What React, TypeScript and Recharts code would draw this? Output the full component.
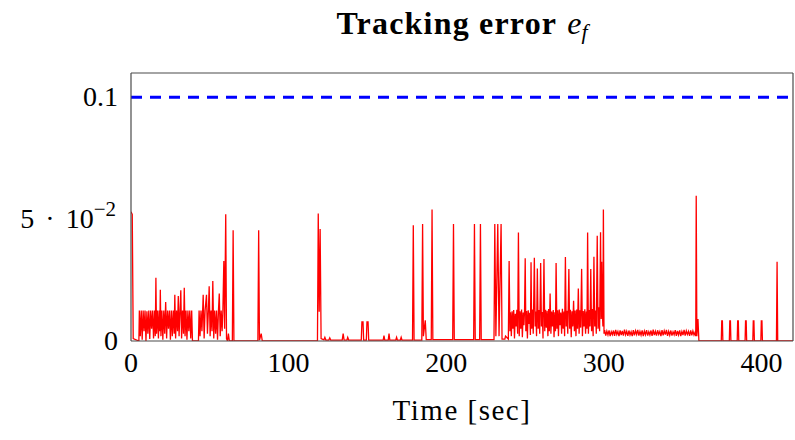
import React from 'react';
import { LineChart, Line, XAxis, YAxis, ReferenceLine } from 'recharts';

const X_TICKS = [0, 100, 200, 300, 400];
const Y_TICKS = [0, 0.05, 0.1];
const X_DOMAIN: [number, number] = [0, 420];
const Y_DOMAIN: [number, number] = [0, 0.11];
const THRESHOLD = 0.1;
const TITLE = 'Tracking error';
const X_LABEL = 'Time [sec]';

// [time (s), tracking error]
const startupSpike: [number, number][] = [
  [0, 0.053], [0.8, 0.052], [1.4, 0.001], [5.0, 0],
];

const pulseTrain: [number, number][] = [
  [5.3, 0.0125], [5.9, 0.002], [6.5, 0.0125], [7.1, 0.0005], [7.7, 0.0125], [8.3, 0.004],
  [8.9, 0.0125], [9.5, 0.0], [10.1, 0.0122], [10.7, 0.003], [11.3, 0.0125], [11.9, 0.0008],
  [12.5, 0.0125], [13.1, 0.005], [13.7, 0.0125], [14.3, 0.001], [14.9, 0.0125], [15.4, 0.002],
  [15.8, 0.026], [16.2, 0.003], [16.8, 0.0125], [17.4, 0.001], [17.9, 0.0125], [18.3, 0.004],
  [18.6, 0.021], [19.0, 0.002], [19.6, 0.0125], [20.2, 0.0005], [20.8, 0.0125], [21.4, 0.003],
  [22.0, 0.016], [22.6, 0.001], [23.2, 0.0125], [23.8, 0.005], [24.4, 0.0125], [25.0, 0.0005],
  [25.6, 0.0125], [26.2, 0.002], [26.8, 0.0125], [27.4, 0.003], [27.8, 0.019], [28.3, 0.001],
  [28.9, 0.0125], [29.5, 0.004], [30.0, 0.0185], [30.5, 0.002], [31.1, 0.0125], [31.6, 0.0208],
  [32.1, 0.001], [32.7, 0.0125], [33.3, 0.003], [33.8, 0.0219], [34.3, 0.002], [34.9, 0.0125],
  [35.5, 0.0005], [36.1, 0.0125], [36.7, 0.004], [37.3, 0.0125], [37.9, 0.001], [38.5, 0.0125],
  [39.0, 0.0], [42.8, 0.0], [43.2, 0.0125], [43.8, 0.002], [44.4, 0.0125], [45.0, 0.004],
  [45.8, 0.019], [46.4, 0.001], [47.0, 0.0125], [47.9, 0.019], [48.5, 0.003], [49.1, 0.0125],
  [49.6, 0.0225], [50.2, 0.002], [50.8, 0.0125], [51.4, 0.004], [51.9, 0.0246], [52.5, 0.001],
  [53.1, 0.0125], [53.7, 0.003], [54.3, 0.0125], [54.9, 0.0005], [55.5, 0.0125], [56.0, 0.0195],
  [56.6, 0.002], [57.2, 0.0125], [57.8, 0.004], [58.3, 0.0125], [58.9, 0.0328], [59.4, 0.005],
  [60.1, 0.052], [60.6, 0.001], [61.2, 0.0], [61.8, 0.003], [62.4, 0.0],
];

const sparseSpikes: [number, number][] = [
  [64.3, 0], [64.8, 0.0455], [65.3, 0], [80.5, 0], [81.0, 0.0455], [81.5, 0.0003], [82.6, 0.003],
  [83.3, 0], [118.3, 0], [118.8, 0.0523], [119.4, 0.012], [120.0, 0.046], [120.6, 0.001],
  [122.4, 0.0005], [123.0, 0.0015], [123.6, 0.0004], [125.5, 0.0004], [126.1, 0.0013],
  [126.7, 0.0004], [134.0, 0.0004], [134.6, 0.003], [135.2, 0.0004], [137.0, 0.0004],
  [137.5, 0.0015], [138.1, 0.0004], [146.1, 0.0004], [146.5, 0.0078], [147.2, 0.0078],
  [147.6, 0.0004], [149.3, 0.0004], [149.7, 0.0078], [150.4, 0.0078], [150.8, 0.0004],
  [160.0, 0.0004], [160.5, 0.0022], [161.0, 0.0004], [163.2, 0.0004], [163.7, 0.003],
  [164.2, 0.0004], [168.0, 0.0004], [168.5, 0.0015], [169.0, 0.0004], [170.9, 0.0004],
  [171.4, 0.0015], [171.9, 0.0004], [178.6, 0.0004], [179.1, 0.0475], [179.6, 0.0004],
  [184.5, 0.0004], [185.0, 0.048], [185.5, 0.002], [186.7, 0.0085], [187.3, 0.0006],
  [190.5, 0.0006], [191.0, 0.054], [191.5, 0.0006], [204.1, 0.0006], [204.6, 0.048],
  [205.1, 0.0006], [217.4, 0.0006], [217.9, 0.048], [218.4, 0.0006], [221.2, 0.0006],
  [221.7, 0.048], [222.2, 0.0006], [230.3, 0.0006], [230.8, 0.048], [231.5, 0.002],
  [232.7, 0.048], [233.5, 0.002], [234.8, 0.048], [235.4, 0.0008], [237.2, 0.0008],
  [237.6, 0.002], [239.4, 0.0008], [239.9, 0.0328], [240.4, 0.004],
];

const activePhase: [number, number][] = [
  [240.8, 0.0118], [241.3, 0.002], [241.8, 0.0122], [242.3, 0.005], [242.8, 0.0127], [243.3, 0.001],
  [243.8, 0.0112], [244.3, 0.006], [244.8, 0.0128], [245.3, 0.003], [245.8, 0.0445], [246.3, 0.002],
  [246.8, 0.0122], [247.3, 0.005], [247.8, 0.0129], [248.3, 0.0015], [248.8, 0.0117], [249.3, 0.0065],
  [249.7, 0.0128], [250.1, 0.034], [250.5, 0.004], [251.0, 0.0123], [251.5, 0.001], [252.0, 0.0126],
  [252.5, 0.007], [253.0, 0.0116], [253.4, 0.0025], [253.8, 0.0323], [254.2, 0.005], [254.7, 0.0129],
  [255.2, 0.003], [255.9, 0.0342], [256.4, 0.006], [256.9, 0.0121], [257.3, 0.002], [257.8, 0.0298],
  [258.3, 0.005], [258.8, 0.0127], [259.3, 0.003], [259.9, 0.032], [260.4, 0.006], [260.9, 0.0119],
  [261.4, 0.001], [262.0, 0.0337], [262.5, 0.004], [263.0, 0.0128], [263.5, 0.0055], [264.0, 0.0124],
  [264.5, 0.002], [265.0, 0.0131], [265.4, 0.004], [265.9, 0.0195], [266.4, 0.003], [266.9, 0.0121],
  [267.4, 0.006], [267.9, 0.0127], [268.4, 0.0015], [268.9, 0.0118], [269.3, 0.004], [269.7, 0.032],
  [270.2, 0.005], [270.7, 0.0126], [271.2, 0.002], [271.7, 0.0129], [272.2, 0.0065], [272.7, 0.0117],
  [273.2, 0.003], [273.7, 0.0132], [274.2, 0.005], [274.7, 0.0121], [275.1, 0.002], [275.6, 0.0345],
  [276.1, 0.006], [276.6, 0.0124], [277.1, 0.003], [277.8, 0.0295], [278.3, 0.005], [278.8, 0.0128],
  [279.3, 0.0015], [279.8, 0.0122], [280.3, 0.006], [280.8, 0.0165], [281.3, 0.004], [281.8, 0.0125],
  [282.3, 0.002], [282.8, 0.0129], [283.3, 0.005], [283.8, 0.0215], [284.3, 0.003], [284.8, 0.0126],
  [285.3, 0.0055], [285.9, 0.0296], [286.4, 0.002], [286.9, 0.0123], [287.4, 0.006], [287.9, 0.013],
  [288.4, 0.003], [288.9, 0.0121], [289.3, 0.005], [289.7, 0.0445], [290.2, 0.003], [290.7, 0.0127],
  [291.2, 0.006], [291.7, 0.0296], [292.2, 0.004], [292.7, 0.0131], [293.2, 0.002], [293.7, 0.0346],
  [294.2, 0.006], [294.7, 0.0125], [295.2, 0.003], [295.8, 0.0432], [296.3, 0.005], [296.8, 0.0138],
  [297.3, 0.004], [297.9, 0.0446], [298.3, 0.009], [298.6, 0.0325], [299.0, 0.012], [299.4, 0.006],
  [299.7, 0.054], [300.1, 0.003],
];

const settlingPhase: [number, number][] = [
  [300.5, 0.0045], [301.2, 0.0022], [301.9, 0.0041], [302.6, 0.0025], [303.3, 0.0044], [304.0, 0.002],
  [304.7, 0.0038], [305.4, 0.0026], [306.1, 0.0043], [306.8, 0.0021], [307.5, 0.0046], [308.2, 0.0027],
  [308.9, 0.0039], [309.6, 0.002], [310.3, 0.0044], [311.0, 0.0024], [311.7, 0.0041], [312.4, 0.0022],
  [313.1, 0.0047], [313.8, 0.0026], [314.5, 0.004], [315.2, 0.0021], [315.9, 0.0043], [316.6, 0.0025],
  [317.3, 0.0038], [318.0, 0.002], [318.7, 0.0045], [319.4, 0.0023], [320.1, 0.0042], [320.8, 0.0027],
  [321.5, 0.0046], [322.2, 0.0022], [322.9, 0.0039], [323.6, 0.0024], [324.3, 0.0044], [325.0, 0.002],
  [325.7, 0.0041], [326.4, 0.0026], [327.1, 0.0045], [327.8, 0.0022], [328.5, 0.0038], [329.2, 0.0025],
  [329.9, 0.0043], [330.6, 0.0021], [331.3, 0.0047], [332.0, 0.0024], [332.7, 0.004], [333.4, 0.0022],
  [334.1, 0.0044], [334.8, 0.0027], [335.5, 0.0039], [336.2, 0.002], [336.9, 0.0045], [337.6, 0.0023],
  [338.3, 0.0042], [339.0, 0.0026], [339.7, 0.0046], [340.4, 0.0021], [341.1, 0.004], [341.8, 0.0024],
  [342.5, 0.0043], [343.2, 0.0022], [343.9, 0.0038], [344.6, 0.0026], [345.3, 0.0045], [346.0, 0.0021],
  [346.7, 0.0041], [347.4, 0.0025], [348.1, 0.0044], [348.8, 0.002], [349.5, 0.0039], [350.2, 0.0024],
  [350.9, 0.0046], [351.6, 0.0022], [352.3, 0.0042], [353.0, 0.0027], [353.7, 0.004], [354.4, 0.0021],
  [355.1, 0.0044], [355.8, 0.0023], [356.5, 0.0041], [357.2, 0.0025], [357.9, 0.0036],
];

const tailPulses: [number, number][] = [
  [358.3, 0.002], [358.6, 0.0596], [359.0, 0.002], [359.7, 0.009], [360.3, 0.0],
  [374.5, 0], [374.8, 0.0082], [375.2, 0.0082], [375.5, 0],
  [379.6, 0], [379.9, 0.0082], [380.3, 0.0082], [380.6, 0],
  [384.6, 0], [384.9, 0.0082], [385.3, 0.0082], [385.6, 0],
  [389.6, 0], [389.9, 0.0082], [390.3, 0.0082], [390.6, 0],
  [394.5, 0], [394.8, 0.0082], [395.2, 0.0082], [395.5, 0],
  [399.6, 0], [399.9, 0.0082], [400.3, 0.0082], [400.6, 0],
  [409.5, 0], [409.9, 0.0325], [410.3, 0], [420, 0],
];

const errorData = [
  ...startupSpike, ...pulseTrain, ...sparseSpikes, ...activePhase, ...settlingPhase, ...tailPulses,
].map(([t, e]) => ({ t, e }));

const FONT = "'Liberation Serif', 'DejaVu Serif', serif";
const FRAME = '#4a4a4a';
const TICK = '#b0b0b0';

const XTick = (props: any) => {
  const { x, y, payload } = props;
  return (
    <text x={x} y={y + 31} textAnchor="middle" fontFamily={FONT} fontSize={28} fill="#000">
      {payload.value}
    </text>
  );
};

const YTick = (props: any) => {
  const { x, y, payload } = props;
  const v = payload.value;
  if (Math.abs(v - 0.05) < 1e-9) {
    return (
      <text x={x - 15} y={y + 9} textAnchor="end" fontFamily={FONT} fontSize={28} fill="#000">
        5<tspan dx={11}>·</tspan><tspan dx={11}>10</tspan>
        <tspan dy={-12} fontSize={21}>−2</tspan>
      </text>
    );
  }
  return (
    <text x={x - 13} y={y + 9} textAnchor="end" fontFamily={FONT} fontSize={28} fill="#000">
      {v === 0 ? '0' : String(v)}
    </text>
  );
};

export default function App() {
  return (
    <div style={{ position: 'absolute', left: 0, top: 0, width: 795, height: 440, background: '#fff' }}>
      <LineChart
        width={795}
        height={440}
        data={errorData}
        margin={{ top: 73, right: 2, bottom: 0, left: 0 }}
      >
        <XAxis
          dataKey="t"
          type="number"
          domain={X_DOMAIN}
          ticks={X_TICKS}
          interval={0}
          allowDataOverflow
          height={99}
          tickSize={0}
          tickMargin={0}
          tickLine={false}
          axisLine={false}
          tick={<XTick />}
        />
        <XAxis
          xAxisId="xb"
          type="number"
          domain={X_DOMAIN}
          ticks={X_TICKS}
          interval={0}
          allowDataOverflow
          orientation="bottom"
          mirror
          tick={false}
          tickSize={12}
          tickLine={{ stroke: TICK, strokeWidth: 1.5 }}
          axisLine={{ stroke: FRAME, strokeWidth: 1.2 }}
        />
        <XAxis
          xAxisId="xt"
          type="number"
          domain={X_DOMAIN}
          ticks={X_TICKS}
          interval={0}
          allowDataOverflow
          orientation="top"
          mirror
          tick={false}
          tickSize={12}
          tickLine={{ stroke: TICK, strokeWidth: 1.5 }}
          axisLine={{ stroke: FRAME, strokeWidth: 1.2 }}
        />
        <YAxis
          type="number"
          domain={Y_DOMAIN}
          ticks={Y_TICKS}
          interval={0}
          allowDataOverflow
          width={131}
          tickSize={0}
          tickMargin={0}
          tickLine={false}
          axisLine={false}
          tick={<YTick />}
        />
        <YAxis
          yAxisId="yl"
          type="number"
          domain={Y_DOMAIN}
          ticks={Y_TICKS}
          interval={0}
          allowDataOverflow
          orientation="left"
          mirror
          tick={false}
          tickSize={12}
          tickLine={{ stroke: TICK, strokeWidth: 1.5 }}
          axisLine={{ stroke: FRAME, strokeWidth: 1.2 }}
        />
        <YAxis
          yAxisId="yr"
          type="number"
          domain={Y_DOMAIN}
          ticks={Y_TICKS}
          interval={0}
          allowDataOverflow
          orientation="right"
          mirror
          tick={false}
          tickSize={12}
          tickLine={{ stroke: TICK, strokeWidth: 1.5 }}
          axisLine={{ stroke: FRAME, strokeWidth: 1.2 }}
        />
        <ReferenceLine y={THRESHOLD} stroke="#0000ff" strokeWidth={3} strokeDasharray="11 8" />
        <Line
          type="linear"
          dataKey="e"
          stroke="#ff0000"
          strokeWidth={1.3}
          dot={false}
          activeDot={false}
          isAnimationActive={false}
        />
      </LineChart>
      <svg width={795} height={440} style={{ position: 'absolute', left: 0, top: 0, pointerEvents: 'none' }}>
        <text x={462} y={34} textAnchor="middle" fontFamily={FONT} fontSize={32} fill="#000">
          <tspan fontWeight="bold" letterSpacing={1.2}>{TITLE}</tspan>
          <tspan dx={10} fontStyle="italic">e</tspan>
          <tspan fontStyle="italic" fontSize={22} dy={5}>f</tspan>
        </text>
        <text x={462} y={420} textAnchor="middle" fontFamily={FONT} fontSize={29} letterSpacing={1.5} fill="#000">
          {X_LABEL}
        </text>
      </svg>
    </div>
  );
}
